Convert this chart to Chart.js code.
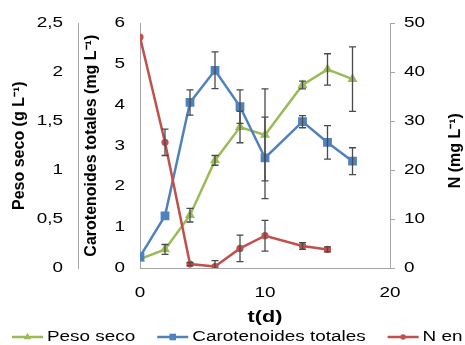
<!DOCTYPE html>
<html>
<head>
<meta charset="utf-8">
<script src="https://cdn.jsdelivr.net/npm/chart.js@4.4.1/dist/chart.umd.min.js"></script>
<style>
  html, body { margin: 0; padding: 0; background: #fff; }
  canvas { display: block; }
</style>
</head>
<body>
<canvas id="chart" width="465" height="345"></canvas>
<script>
// data
const days = [0, 2, 4, 6, 8, 10, 13, 15, 17];
const pesoSeco = [0.09, 0.19, 0.54, 1.10, 1.44, 1.36, 1.87, 2.03, 1.93];
const pesoSecoErr = [0, 0.05, 0.07, 0.05, 0.16, 0.47, 0.04, 0.16, 0.33];
const carotenoides = [0.28, 1.28, 4.06, 4.85, 3.96, 2.70, 3.59, 3.08, 2.62];
const carotenoidesErr = [0, 0, 0.31, 0.45, 0.41, 1.0, 0.15, 0.41, 0.33];
const nitrogeno = [47.2, 25.7, 0.8, 0.3, 4.0, 6.6, 4.5, 3.8];
const nitrogenoErr = [0, 2.7, 0.3, 1.2, 2.7, 3.15, 0.7, 0.5];
const seriesLabels = ['Peso seco', 'Carotenoides totales', 'N en medio'];

const FONT = '"Liberation Sans", Arial, sans-serif';
const AXIS_COLOR = '#a6a6a6';
const TEXT_SX = 1.35; // the source renders horizontal text wider than normal

const canvas = document.getElementById('chart');
const ctx = canvas.getContext('2d');

// stretch horizontal text only (rotated titles stay as they are)
const baseFillText = ctx.fillText.bind(ctx);
ctx.fillText = function (text, x, y) {
  const m = this.getTransform();
  if (Math.abs(m.b) > 0.01) {
    baseFillText(text, x, y);
    return;
  }
  this.save();
  this.translate(x, y);
  this.scale(TEXT_SX, 1);
  baseFillText(text, 0, 0);
  this.restore();
};

const toPoints = (values) => values.map((v, i) => ({ x: days[i], y: v }));

function drawMarker(c, style, x, y, r) {
  c.beginPath();
  if (style === 'triangle') {
    c.moveTo(x, y - r);
    c.lineTo(x + r * 0.866, y + r * 0.5);
    c.lineTo(x - r * 0.866, y + r * 0.5);
    c.closePath();
  } else if (style === 'rect') {
    const s = r * 0.707;
    c.rect(x - s, y - s, s * 2, s * 2);
  } else {
    c.arc(x, y, r, 0, Math.PI * 2);
  }
  c.fill();
}

const errorBars = {
  id: 'errorBars',
  afterDatasetsDraw(chart) {
    const c = chart.ctx;
    const area = chart.chartArea;
    c.save();
    c.beginPath();
    c.rect(area.left, area.top - 30, area.right - area.left, area.bottom - area.top + 30);
    c.clip();
    c.strokeStyle = '#4a4a4a';
    c.lineWidth = 1.3;
    chart.data.datasets.forEach((ds, i) => {
      const meta = chart.getDatasetMeta(i);
      const yScale = chart.scales[ds.yAxisID];
      ds.errors.forEach((e, j) => {
        if (!e) return;
        const px = meta.data[j].x;
        const v = ds.data[j].y;
        const top = yScale.getPixelForValue(v + e);
        const bot = yScale.getPixelForValue(v - e);
        c.beginPath();
        c.moveTo(px, top); c.lineTo(px, bot);
        c.moveTo(px - 3.5, top); c.lineTo(px + 3.5, top);
        c.moveTo(px - 3.5, bot); c.lineTo(px + 3.5, bot);
        c.stroke();
      });
    });
    c.restore();
  }
};

const extras = {
  id: 'extras',
  afterDraw(chart) {
    const c = chart.ctx;
    const area = chart.chartArea;
    c.save();
    // right axis title, reading bottom to top
    c.fillStyle = '#000';
    c.font = 'bold 16px ' + FONT;
    c.textAlign = 'center';
    c.textBaseline = 'middle';
    c.translate(chart.scales.yN.right - 9.5, (area.top + area.bottom) / 2 + 5);
    c.rotate(-Math.PI / 2);
    c.fillText('N (mg L⁻¹)', 0, 0);
    c.restore();

    // legend along the bottom
    c.save();
    c.font = '14px ' + FONT;
    c.textAlign = 'left';
    c.textBaseline = 'middle';
    let x = 12;
    const y = 337;
    chart.data.datasets.forEach((ds) => {
      c.strokeStyle = ds.borderColor;
      c.fillStyle = ds.borderColor;
      c.lineWidth = 2.5;
      c.beginPath();
      c.moveTo(x, y);
      c.lineTo(x + 31, y);
      c.stroke();
      drawMarker(c, ds.pointStyle, x + 15.5, y, ds.pointRadius * 0.75);
      c.fillStyle = '#000';
      c.fillText(ds.label, x + 35, y);
      x += 35 + c.measureText(ds.label).width * TEXT_SX + 22;
    });
    c.restore();
  }
};

new Chart(ctx, {
  type: 'line',
  data: {
    datasets: [
      {
        label: seriesLabels[0],
        data: toPoints(pesoSeco),
        errors: pesoSecoErr,
        yAxisID: 'yPeso',
        borderColor: '#9bbb59',
        backgroundColor: '#9bbb59',
        pointStyle: 'triangle',
        pointRadius: 5.8,
        order: 2,
      },
      {
        label: seriesLabels[1],
        data: toPoints(carotenoides),
        errors: carotenoidesErr,
        yAxisID: 'yCar',
        borderColor: '#4f81bd',
        backgroundColor: '#4f81bd',
        pointStyle: 'rect',
        pointRadius: 6.2,
        order: 1,
      },
      {
        label: seriesLabels[2],
        data: toPoints(nitrogeno),
        errors: nitrogenoErr,
        yAxisID: 'yN',
        borderColor: '#c0504d',
        backgroundColor: '#c0504d',
        pointStyle: 'circle',
        pointRadius: 3.6,
        order: 0,
      },
    ],
  },
  options: {
    responsive: false,
    animation: false,
    events: [],
    layout: { padding: { top: 22, right: 0, bottom: 17, left: 0 } },
    elements: {
      line: { borderWidth: 2.5, tension: 0 },
      point: { borderWidth: 0, hoverRadius: 0 },
    },
    scales: {
      x: {
        type: 'linear',
        min: 0,
        max: 20,
        afterFit: (scale) => { scale.height = 60; },
        grid: { display: false, drawTicks: false },
        border: { color: AXIS_COLOR },
        ticks: { stepSize: 10, padding: 17, color: '#000', font: { family: FONT, size: 14 } },
        title: {
          display: true,
          text: 't(d)',
          color: '#000',
          padding: { top: 0, bottom: 1 },
          font: { family: FONT, size: 16, weight: 'bold' },
        },
      },
      yPeso: {
        position: 'left',
        weight: 1,
        min: 0,
        max: 2.5,
        afterFit: (scale) => { scale.width = 78; },
        grid: { display: false, drawTicks: false },
        border: { color: AXIS_COLOR },
        ticks: {
          stepSize: 0.5,
          padding: 15,
          color: '#000',
          font: { family: FONT, size: 14 },
          callback: (value) => String(value).replace('.', ','),
        },
        title: {
          display: true,
          text: 'Peso seco (g L⁻¹)',
          color: '#000',
          padding: { top: 10, bottom: 0 },
          font: { family: FONT, size: 16, weight: 'bold' },
        },
      },
      yCar: {
        position: 'left',
        weight: 0,
        min: 0,
        max: 6,
        afterFit: (scale) => { scale.width = 62; },
        grid: { display: false, drawTicks: false },
        border: { color: AXIS_COLOR },
        ticks: { stepSize: 1, padding: 15, color: '#000', font: { family: FONT, size: 14 } },
        title: {
          display: true,
          text: 'Carotenoides totales (mg L⁻¹)',
          color: '#000',
          padding: { top: 3.5, bottom: 0 },
          font: { family: FONT, size: 16, weight: 'bold' },
        },
      },
      yN: {
        position: 'right',
        min: 0,
        max: 50,
        afterFit: (scale) => { scale.width = 75; },
        grid: { drawOnChartArea: false, drawTicks: true, tickLength: 5, color: AXIS_COLOR },
        border: { color: AXIS_COLOR },
        ticks: { stepSize: 10, padding: 9, color: '#000', font: { family: FONT, size: 14 } },
      },
    },
    plugins: {
      legend: { display: false },
      tooltip: { enabled: false },
    },
  },
  plugins: [errorBars, extras],
});
</script>
</body>
</html>
